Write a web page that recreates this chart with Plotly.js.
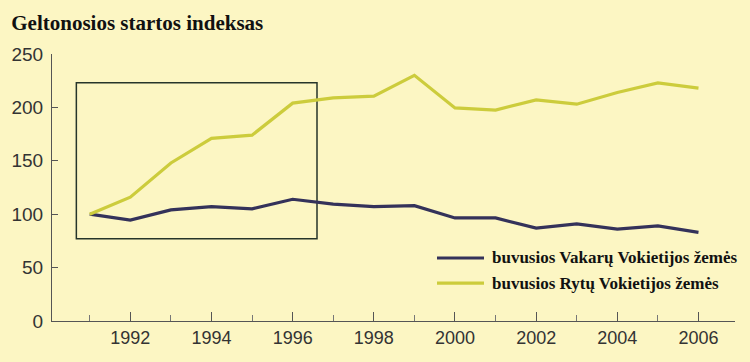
<!DOCTYPE html>
<html><head><meta charset="utf-8">
<script src="https://cdn.plot.ly/plotly-3.0.1.min.js"></script>
<style>html,body{margin:0;padding:0;background:#fcf6c3;}</style>
</head><body>
<div id="chart" style="width:750px;height:362px;"></div>
<script>
const years = [1991,1992,1993,1994,1995,1996,1997,1998,1999,2000,2001,2002,2003,2004,2005,2006];
const west  = [100,94.5,104,107,105,114,109.5,107,108,96.5,96.5,87,91,86,89,83];
const east  = [100,116,148,171,174,204,209,210.5,230,199.5,197.5,207,203,214,223,218];
const seriesNames = ['buvusios Vakarų Vokietijos žemės','buvusios Rytų Vokietijos žemės'];
const seriesColors = ['#34325a','#cccc3c'];
const xTickVals = [1992,1994,1996,1998,2000,2002,2004,2006];
const xTickText = ['1992','1994','1996','1998','2000','2002','2004','2006'];
const yTickVals = [0,50,100,150,200,250];
const highlightYears = [1990.67, 1996.6];
const highlightValues = [77, 223];

const traces = [
  {x: years, y: west, name: seriesNames[0], type:'scatter', mode:'lines',
   line:{color:seriesColors[0], width:3.2}},
  {x: years, y: east, name: seriesNames[1], type:'scatter', mode:'lines',
   line:{color:seriesColors[1], width:3.2}}
];

// custom legend (drawn as paper-positioned shapes + annotations)
const legendRowsY = [0.236, 0.142];
const legendShapes = seriesNames.map((n,i)=>({type:'line', xref:'paper', yref:'paper',
  x0:0.5637, x1:0.6325, y0:legendRowsY[i], y1:legendRowsY[i],
  line:{color:seriesColors[i], width:3.2}}));
const legendAnn = seriesNames.map((n,i)=>({text:n, xref:'paper', yref:'paper',
  x:0.6413, y:legendRowsY[i], xanchor:'left', yanchor:'middle', showarrow:false,
  font:{family:'Liberation Serif', size:17, color:'#111', weight:'bold'}}));

const layout = {
  width:750, height:362,
  paper_bgcolor:'#fcf6c3', plot_bgcolor:'#fcf6c3',
  margin:{l:52, r:15, t:54, b:41},
  showlegend:false,
  title:{text:'Geltonosios startos indeksas', x:0.015, xanchor:'left', xref:'container',
         y:0.937, yanchor:'middle', yref:'container',
         font:{family:'Liberation Serif', size:21, color:'#111', weight:'bold'}},
  xaxis:{range:[1990.07,2006.9], showgrid:false, zeroline:false,
         showline:true, linecolor:'#555', linewidth:1,
         tickvals:xTickVals, ticktext:xTickText, ticks:'inside', ticklen:9, tickcolor:'#555',
         minor:{dtick:1, tick0:1991, ticks:'inside', ticklen:6, tickcolor:'#777', showgrid:false},
         tickfont:{family:'Liberation Sans', size:18, color:'#333'}},
  yaxis:{range:[0,250], showgrid:false, zeroline:false,
         showline:true, linecolor:'#555', linewidth:1,
         tickvals:yTickVals, ticks:'inside', ticklen:6, tickcolor:'#555',
         ticklabelstandoff:4,
         tickfont:{family:'Liberation Sans', size:19, color:'#333'}},
  annotations: legendAnn,
  shapes:[{type:'rect', xref:'x', yref:'y',
           x0:highlightYears[0], x1:highlightYears[1], y0:highlightValues[0], y1:highlightValues[1],
           line:{color:'#26352a', width:1.5}, fillcolor:'rgba(0,0,0,0)', layer:'below'}].concat(legendShapes)
};
Plotly.newPlot('chart', traces, layout, {displayModeBar:false, staticPlot:true});
</script>
</body></html>
